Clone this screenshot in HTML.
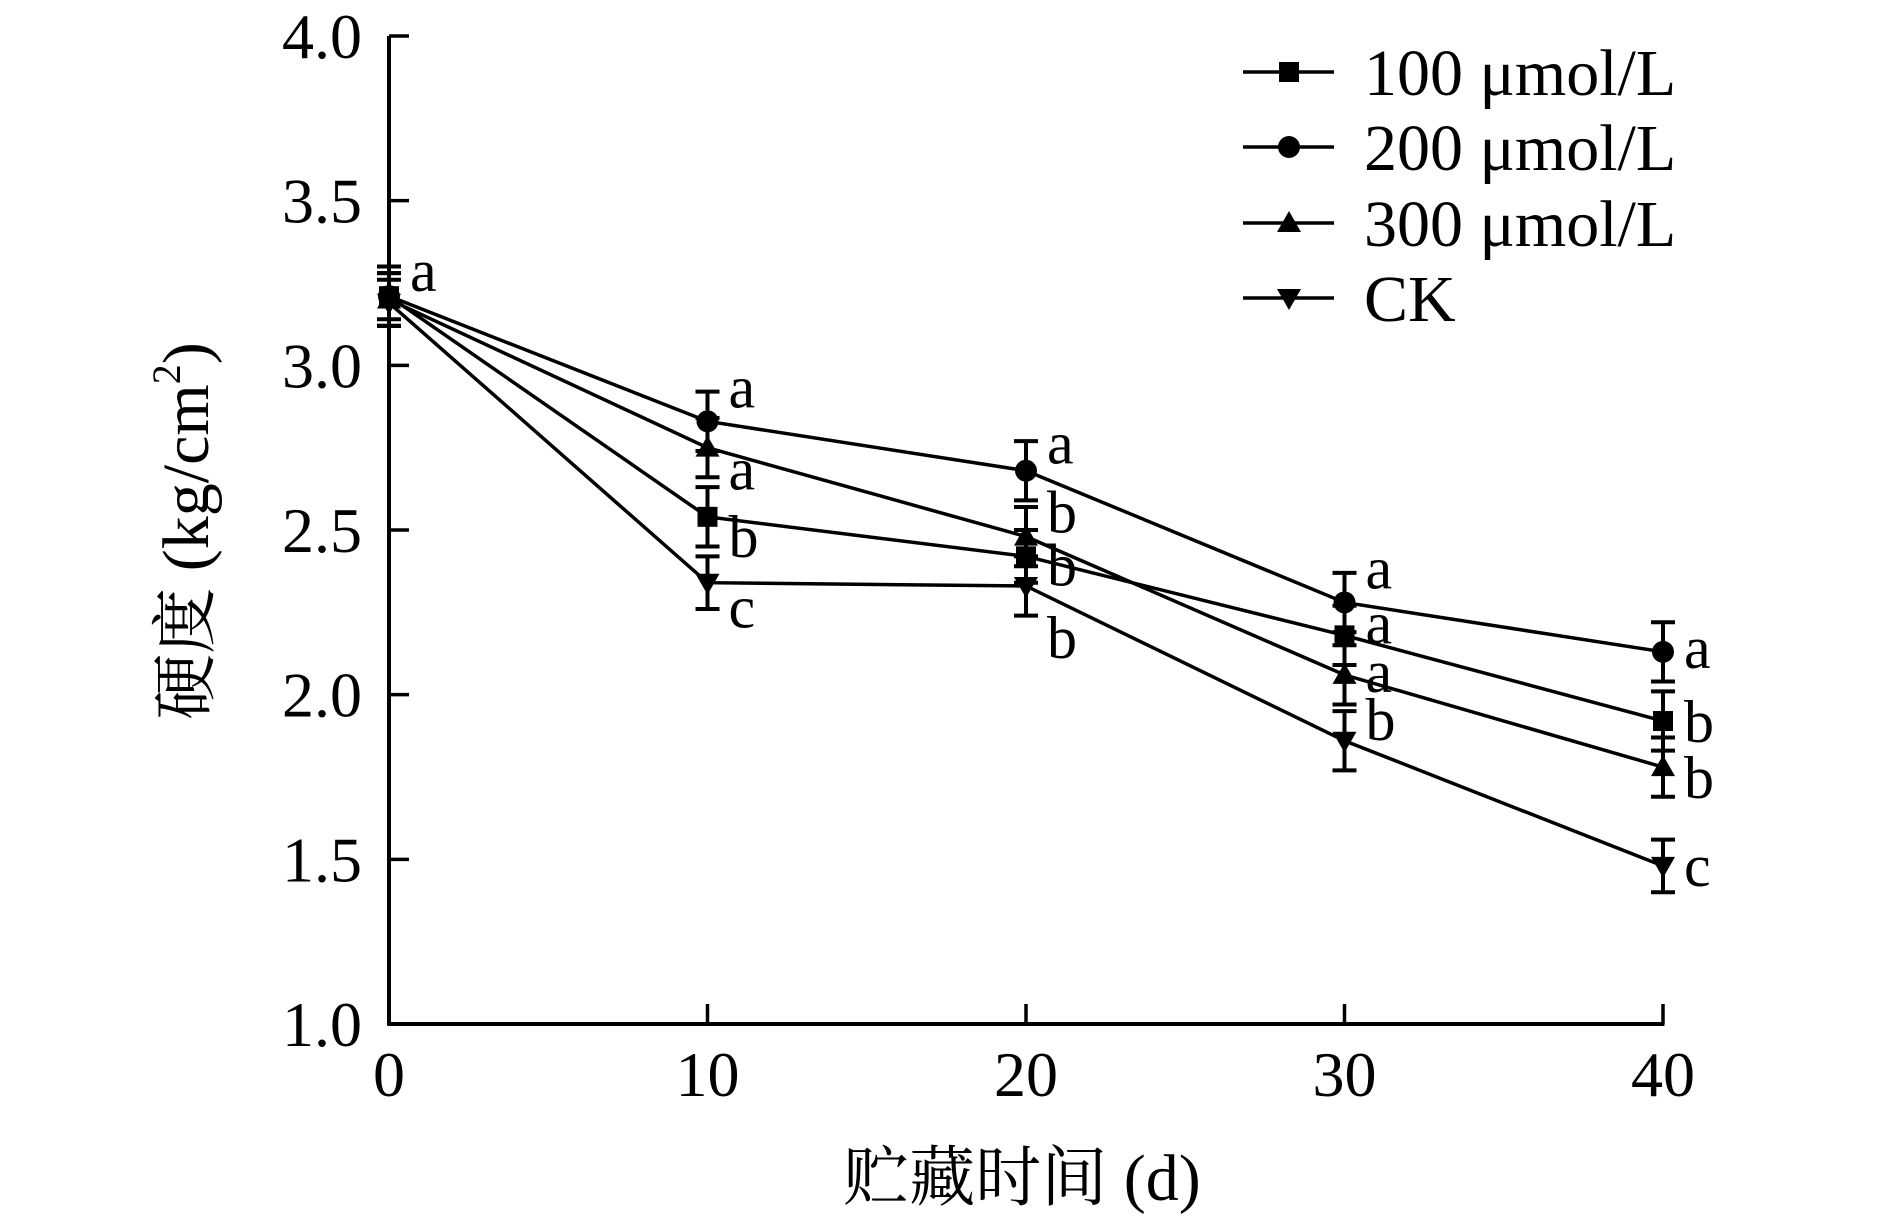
<!DOCTYPE html>
<html><head><meta charset="utf-8"><style>
html,body{margin:0;padding:0;background:#fff}
svg{display:block}
text{font-family:"Liberation Serif","Noto Serif CJK SC","Noto Sans CJK SC",serif;fill:#000}
</style></head><body>
<svg id="chart" width="1890" height="1218" viewBox="0 0 1890 1218">
<g id="axes"></g>
<g id="series"></g>
<g id="legend"></g>
<text x="193" y="531" font-size="66" text-anchor="middle" dominant-baseline="middle" transform="rotate(-90 193 531)">硬度 (kg/cm<tspan font-size="40" dy="-22">2</tspan><tspan dy="22">)</tspan></text>
<text x="1022" y="1200" font-size="66" text-anchor="middle">贮藏时间 (d)</text>
</svg>
<script>
const days = [0, 10, 20, 30, 40];
const xTicks = [0, 10, 20, 30, 40];
const yTicks = ["1.0", "1.5", "2.0", "2.5", "3.0", "3.5", "4.0"];
const seriesNames = ["100 μmol/L", "200 μmol/L", "300 μmol/L", "CK"];
const v100 = [3.21, 2.54, 2.42, 2.18, 1.92];
const v200 = [3.21, 2.83, 2.68, 2.28, 2.13];
const v300 = [3.20, 2.75, 2.48, 2.06, 1.78];
const vCK  = [3.19, 2.34, 2.33, 1.86, 1.48];
const e100 = [0.07, 0.09, 0.08, 0.09, 0.09];
const e200 = [0.09, 0.09, 0.09, 0.09, 0.09];
const e300 = [0.08, 0.09, 0.09, 0.09, 0.09];
const eCK  = [0.07, 0.08, 0.09, 0.09, 0.08];
const l100 = ["", "b", "b", "a", "b"];
const l200 = ["a", "a", "a", "a", "a"];
const l300 = ["", "a", "b", "a", "b"];
const lCK  = ["", "c", "b", "b", "c"];

const NS = "http://www.w3.org/2000/svg";
const X0 = 389, XW = 1274, Y0 = 1024, YH = 988;
const xs = d => X0 + (d - 0) / 40 * XW;
const ys = v => Y0 - (v - 1) / 3 * YH;
function mk(tag, attrs, parent) {
  const el = document.createElementNS(NS, tag);
  for (const k in attrs) el.setAttribute(k, attrs[k]);
  parent.appendChild(el);
  return el;
}
const axes = document.getElementById('axes');
let el = mk('line', {x1: X0, y1: ys(4), x2: X0, y2: Y0 + 1.5, stroke: '#000', 'stroke-width': 4}, axes);


el = mk('line', {x1: X0 - 1.5, y1: Y0, x2: xs(40) + 1.5, y2: Y0, stroke: '#000', 'stroke-width': 4}, axes);


yTicks.forEach(t => {
  const y = ys(parseFloat(t));
  const tk = mk('line', {x1: X0, y1: y, x2: X0 + 20, y2: y, stroke: '#000', 'stroke-width': 3.5}, axes);
  
  
  const tx = mk('text', {x: 362, y: y + 22, 'font-size': 64, 'text-anchor': 'end'}, axes);
  tx.textContent = t;
  
  
});
xTicks.forEach(t => {
  const x = xs(t);
  if (t > 0) {
    const tk = mk('line', {x1: x, y1: Y0, x2: x, y2: Y0 - 20, stroke: '#000', 'stroke-width': 3.5}, axes);
    
    
  }
  const tx = mk('text', {x: x, y: 1096, 'font-size': 64, 'text-anchor': 'middle'}, axes);
  tx.textContent = t;
  
  
});

function marker(type, x, y, g) {
  let m;
  if (type === 'square') m = mk('rect', {x: x - 10, y: y - 10, width: 20, height: 20}, g);
  else if (type === 'circle') m = mk('circle', {cx: x, cy: y, r: 11}, g);
  else if (type === 'up') m = mk('polygon', {points: `${x},${y-12} ${x-12},${y+9} ${x+12},${y+9}`}, g);
  else m = mk('polygon', {points: `${x},${y+12} ${x-12},${y-9} ${x+12},${y-9}`}, g);
  return m;
}
const allSeries = [
  {vals: v100, errs: e100, lets: l100, type: 'square', off: [0, 24, 13, -8, 5]},
  {vals: v200, errs: e200, lets: l200, type: 'circle', off: [-21, -30, -23, -30, 0]},
  {vals: v300, errs: e300, lets: l300, type: 'up', off: [0, 26, -20, 1, 15]},
  {vals: vCK, errs: eCK, lets: lCK, type: 'down', off: [0, 29, 56, -17, 4]}
];
const sg = document.getElementById('series');
allSeries.forEach((s, si) => {
  const g = mk('g', {}, sg);
  
  
  const pts = days.map((d, i) => xs(d) + ',' + ys(s.vals[i])).join(' ');
  const pl = mk('polyline', {points: pts, fill: 'none', stroke: '#000', 'stroke-width': 3.5}, g);
  
  
  days.forEach((d, i) => {
    const x = xs(d), yt = ys(s.vals[i] + s.errs[i]), yb = ys(s.vals[i] - s.errs[i]);
    const eb = mk('path', {d: `M${x},${yt}V${yb}M${x-12},${yt}H${x+12}M${x-12},${yb}H${x+12}`, stroke: '#000', 'stroke-width': 4, fill: 'none'}, g);
    
    
    const m = marker(s.type, x, ys(s.vals[i]), g);
    
    
    if (s.lets[i]) {
      const t = mk('text', {x: x + 21, y: ys(s.vals[i]) + s.off[i] + 16, 'font-size': 60}, g);
      t.textContent = s.lets[i];
      
      
    }
  });
});
const lg = document.getElementById('legend');
const types = ['square', 'circle', 'up', 'down'];
const legY = [72, 147, 223, 298];
seriesNames.forEach((n, i) => {
  const g = mk('g', {}, lg);
  
  
  mk('line', {x1: 1243, y1: legY[i], x2: 1334, y2: legY[i], stroke: '#000', 'stroke-width': 3.5}, g);
  marker(types[i], 1289, legY[i], g);
  const t = mk('text', {x: 1364, y: legY[i] + 23, 'font-size': 66}, g);
  t.textContent = n;
});
</script>
</body></html>
